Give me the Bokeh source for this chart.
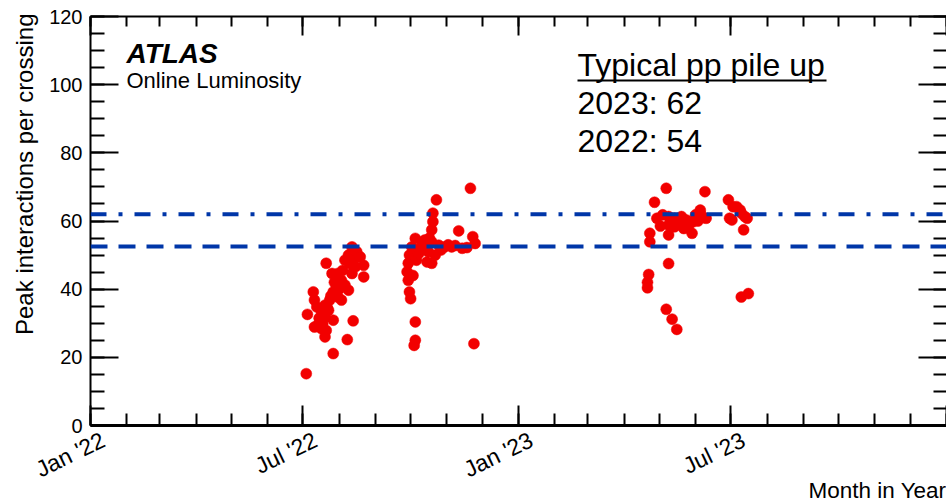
import math
import pandas as pd
from bokeh.plotting import figure
from bokeh.models import (Range1d, LinearAxis, DatetimeAxis, FixedTicker, SingleIntervalTicker,
                          Span, Label, ColumnDataSource, BoxAnnotation, Title)
from bokeh.embed import file_html
from bokeh.resources import INLINE

# ---------------- data ----------------
run_dates = [
    "2022-07-04", "2022-07-05", "2022-07-10", "2022-07-11", "2022-07-11", "2022-07-13", "2022-07-14",
    "2022-07-15", "2022-07-16", "2022-07-17", "2022-07-17", "2022-07-18", "2022-07-20", "2022-07-20",
    "2022-07-20", "2022-07-21", "2022-07-21", "2022-07-22", "2022-07-23", "2022-07-24", "2022-07-25",
    "2022-07-26", "2022-07-27", "2022-07-27", "2022-07-27", "2022-07-28", "2022-07-30", "2022-07-31",
    "2022-07-31", "2022-08-01", "2022-08-03", "2022-08-03", "2022-08-04", "2022-08-06", "2022-08-06",
    "2022-08-08", "2022-08-09", "2022-08-09", "2022-08-10", "2022-08-12", "2022-08-12", "2022-08-13",
    "2022-08-14", "2022-08-15", "2022-08-16", "2022-08-19", "2022-08-22", "2022-08-22",
    "2022-09-28", "2022-09-29", "2022-09-29", "2022-09-30", "2022-09-30", "2022-10-01", "2022-10-02",
    "2022-10-03", "2022-10-04", "2022-10-05", "2022-10-05", "2022-10-05", "2022-10-06", "2022-10-08",
    "2022-10-09", "2022-10-11", "2022-10-13", "2022-10-15", "2022-10-16", "2022-10-17", "2022-10-19",
    "2022-10-19", "2022-10-19", "2022-10-20", "2022-10-20", "2022-10-22", "2022-10-23", "2022-10-25",
    "2022-10-27", "2022-10-30", "2022-11-02", "2022-11-05", "2022-11-08", "2022-11-11", "2022-11-14",
    "2022-11-18", "2022-11-21", "2022-11-23", "2022-11-24", "2022-11-25",
    "2023-04-21", "2023-04-21", "2023-04-22", "2023-04-23", "2023-04-23", "2023-04-27", "2023-04-29",
    "2023-05-02", "2023-05-04", "2023-05-07", "2023-05-07", "2023-05-09", "2023-05-09", "2023-05-09",
    "2023-05-09", "2023-05-12", "2023-05-14", "2023-05-14", "2023-05-16", "2023-05-17", "2023-05-20",
    "2023-05-22", "2023-05-24", "2023-05-26", "2023-05-29", "2023-05-30", "2023-06-01", "2023-06-03",
    "2023-06-05", "2023-06-05", "2023-06-07", "2023-06-09", "2023-06-10", "2023-06-29", "2023-06-30",
    "2023-07-02", "2023-07-03", "2023-07-06", "2023-07-09", "2023-07-10", "2023-07-10", "2023-07-12",
    "2023-07-13", "2023-07-15", "2023-07-16",
]
peak_mu = [
    15.2, 32.6, 39.2, 36.8, 28.9, 34.8, 29.5,
    31.5, 30.9, 33.3, 28.4, 29.8, 31.8, 35.3,
    26.0, 27.9, 47.6, 34.5, 33.8, 36.8, 38.0,
    44.6, 39.2, 30.9, 21.1, 42.0, 40.7, 44.6,
    37.7, 40.0, 42.6, 36.8, 45.5, 41.2, 48.5,
    25.2, 39.7, 50.0, 47.5, 52.4, 44.6, 30.7,
    49.0, 46.6, 51.0, 49.5, 47.0, 43.6,
    45.1, 47.6, 42.6, 39.2, 50.0, 37.2, 52.4,
    44.0, 23.5, 54.9, 30.4, 25.0, 48.5, 50.5,
    52.0, 53.0, 54.4, 48.0, 51.0, 55.0, 53.9,
    57.4, 47.6, 59.8, 62.3, 50.0, 66.2, 52.9,
    51.5, 52.4, 53.0, 52.4, 52.8, 57.1, 52.0,
    52.2, 69.6, 55.4, 24.0, 53.4,
    42.0, 40.4, 44.3, 53.9, 56.4, 65.5, 60.8,
    58.5, 61.8, 69.6, 34.1, 61.3, 58.8, 55.9,
    47.5, 31.2, 60.8, 58.3, 28.2, 59.5, 61.3,
    57.8, 60.3, 58.5, 56.4, 59.8, 61.8, 60.0,
    63.2, 62.3, 61.0, 68.6, 60.8, 66.2, 60.8,
    60.3, 64.2, 64.2, 63.2, 62.3, 37.7, 57.4,
    61.3, 60.8, 38.7,
]

major_tick_dates = ["2022-01-01", "2022-07-01", "2023-01-01", "2023-07-01", "2024-01-01"]
label_tick_dates = ["2022-01-01", "2022-07-01", "2023-01-01", "2023-07-01"]
tick_labels = ["Jan '22", "Jul '22", "Jan '23", "Jul '23"]
x_start, x_end = "2022-01-01", "2024-01-01"
y_start, y_end = 0, 120

typical_line_2023 = 62.0
typical_line_2022 = 52.5
annotation_title = "Typical pp pile up"
annotation_lines = ["2023: 62", "2022: 54"]

# ---------------- figure ----------------
FONT = "Liberation Sans"
BLUE = "#0036a8"
LABEL_SHIFT = pd.Timedelta(days=11)   # rotated labels sit slightly right of their tick (layout only)


def to_ms(d):
    return float(pd.Timestamp(d).value // 10**6)


major_ms = [to_ms(d) for d in major_tick_dates]
minor_ms = [to_ms(d) for d in pd.date_range(x_start, x_end, freq="MS")]
label_ms = [to_ms(pd.Timestamp(d) + LABEL_SHIFT) for d in label_tick_dates]

p = figure(width=946, height=503, x_axis_type="datetime",
           x_range=Range1d(pd.Timestamp(x_start), pd.Timestamp(x_end)),
           y_range=Range1d(y_start, y_end),
           output_backend="svg", toolbar_location=None,
           min_border_left=90, min_border_right=0, min_border_top=16, min_border_bottom=78)
p.outline_line_color = None
p.grid.visible = False
p.background_fill_color = "white"
p.border_fill_color = "white"


def style_axis(ax, major_in, minor_in, line_w=2, labels=True):
    ax.axis_line_color = "black"
    ax.axis_line_width = line_w
    ax.major_tick_in = major_in
    ax.major_tick_out = 0
    ax.minor_tick_in = minor_in
    ax.minor_tick_out = 0
    ax.major_tick_line_width = 2
    ax.minor_tick_line_width = 2
    ax.major_tick_line_color = "black"
    ax.minor_tick_line_color = "black"
    if labels:
        ax.major_label_text_font = FONT
        ax.major_label_text_font_size = "20px"
        ax.major_label_text_color = "black"
    else:
        # tick marks only: labels are not drawn at all
        ax.major_label_text_font_size = "1px"
        ax.major_label_text_color = None
        ax.major_label_standoff = 0


# bottom axis (ticks only)
xb = p.xaxis[0]
xb.ticker = FixedTicker(ticks=major_ms, minor_ticks=minor_ms)
style_axis(xb, 20, 12, line_w=3, labels=False)

# bottom label row (rotated month labels)
xlab = DatetimeAxis(ticker=FixedTicker(ticks=label_ms, minor_ticks=[]))
xlab.axis_line_color = None
xlab.major_tick_line_color = None
xlab.minor_tick_line_color = None
xlab.major_tick_in = 0
xlab.major_tick_out = 0
xlab.minor_tick_in = 0
xlab.minor_tick_out = 0
xlab.major_label_overrides = {ms: lab for ms, lab in zip(label_ms, tick_labels)}
xlab.major_label_orientation = 0.45
xlab.major_label_standoff = 13
xlab.major_label_text_font = FONT
xlab.major_label_text_font_size = "23px"
xlab.major_label_text_color = "black"
p.add_layout(xlab, "below")

# left axis
yl = p.yaxis[0]
yl.ticker = SingleIntervalTicker(interval=20, num_minor_ticks=4)
style_axis(yl, 28, 14)
yl.major_label_standoff = 8

# top axis
xt = DatetimeAxis(ticker=FixedTicker(ticks=major_ms, minor_ticks=minor_ms))
style_axis(xt, 19, 10, labels=False)
p.add_layout(xt, "above")

# right axis
yr = LinearAxis(ticker=SingleIntervalTicker(interval=20, num_minor_ticks=4))
style_axis(yr, 28, 13, labels=False)
yr.axis_line_color = None
p.add_layout(yr, "right")

# axis titles (as side titles so they are not clipped)
p.add_layout(Title(text="Peak interactions per crossing", align="right", offset=-3, standoff=14,
                   vertical_align="top",
                   text_font=FONT, text_font_size="24px", text_font_style="normal",
                   text_color="black"), "left")
p.add_layout(Title(text="Month in Year", align="right", standoff=-38, vertical_align="top",
                   text_font=FONT, text_font_size="22.5px", text_font_style="normal",
                   text_color="black"), "below")

# data
src = ColumnDataSource(dict(date=pd.to_datetime(run_dates), mu=peak_mu))
p.scatter("date", "mu", source=src, size=11, fill_color="#f20000", line_color="#f20000", line_width=0.5)

# reference lines
p.add_layout(Span(location=typical_line_2023, dimension="width", line_color=BLUE,
                  line_width=4, line_dash="16 12 4 12"))
p.add_layout(Span(location=typical_line_2022, dimension="width", line_color=BLUE,
                  line_width=4, line_dash="17 11"))

# ATLAS labels
p.add_layout(Label(x=36, y=372, x_units="screen", y_units="screen", text="ATLAS",
                   text_font=FONT, text_font_size="28px", text_font_style="bold italic",
                   text_baseline="alphabetic", text_color="black"))
p.add_layout(Label(x=36, y=345, x_units="screen", y_units="screen", text="Online Luminosity",
                   text_font=FONT, text_font_size="22px",
                   text_baseline="alphabetic", text_color="black"))

# pile-up annotation
p.add_layout(Label(x=487, y=361, x_units="screen", y_units="screen", text=annotation_title,
                   text_font=FONT, text_font_size="32px", text_baseline="alphabetic", text_color="black"))
p.add_layout(BoxAnnotation(left=487, right=736, bottom=344, top=346,
                           left_units="screen", right_units="screen",
                           top_units="screen", bottom_units="screen",
                           fill_color="black", fill_alpha=1, line_color=None))
for i, t in enumerate(annotation_lines):
    p.add_layout(Label(x=487, y=323 - 38 * i, x_units="screen", y_units="screen", text=t,
                       text_font=FONT, text_font_size="32px", text_baseline="alphabetic",
                       text_color="black"))

open("out.html", "w").write(file_html(p, INLINE))
